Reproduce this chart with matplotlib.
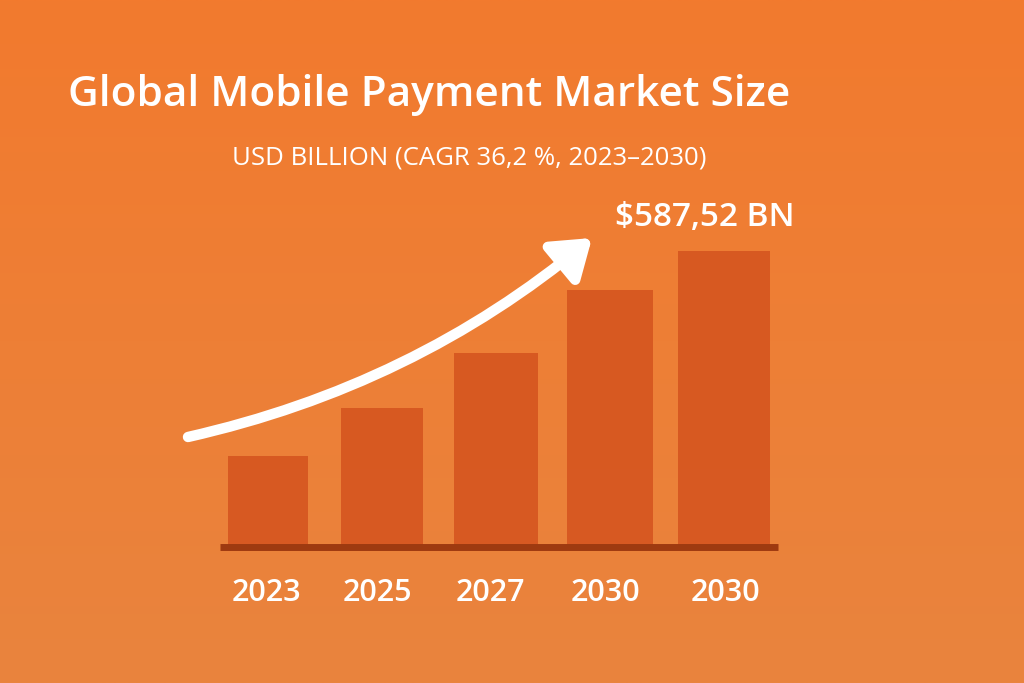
import matplotlib
matplotlib.use("Agg")
import matplotlib.pyplot as plt
import numpy as np
from matplotlib.patches import FancyArrowPatch

years = ["2023", "2025", "2027", "2030", "2030"]
values = [178, 275, 385, 511, 587.52]
title = "Global Mobile Payment Market Size"
subtitle = "USD BILLION (CAGR 36,2 %, 2023–2030)"
callout = "$587,52 BN"

W, H = 1024, 683
fig = plt.figure(figsize=(W/100, H/100), dpi=100)
plt.rcParams['font.family'] = ['Open Sans', 'DejaVu Sans']

bg = fig.add_axes([0, 0, 1, 1]); bg.axis('off')
t = np.linspace(0, 1, 256)[:, None]
c1 = np.array([0xF2, 0x7A, 0x2E]) / 255
c2 = np.array([0xE9, 0x84, 0x3E]) / 255
img = (c1 * (1 - t) + c2 * t)[:, None, :].repeat(2, axis=1)
bg.imshow(img, aspect='auto', extent=[0, 1, 0, 1], origin='upper')
bg.set_xlim(0, 1); bg.set_ylim(0, 1)

ax = fig.add_axes([211/W, (H-545)/H, 570/W, 300/H])
ax.patch.set_alpha(0)
x = np.arange(len(values))
widths = [0.70, 0.72, 0.74, 0.76, 0.80]
ax.bar(x, values, width=widths, color='#D4531E', alpha=0.85, zorder=2)
ax.set_xlim(-0.5, 4.5); ax.set_ylim(0, 600)
ax.axis('off')

ov = fig.add_axes([0, 0, 1, 1]); ov.axis('off'); ov.patch.set_alpha(0)
ov.set_xlim(0, W); ov.set_ylim(H, 0)
ov.plot([220, 778], [547, 547], color='#9E3A10', lw=5, solid_capstyle='butt')
centers = [266, 377, 490, 605, 725]
for cx, yr in zip(centers, years):
    ov.text(cx, 593, yr, color='white', fontsize=22, ha='center', va='center', fontweight='semibold')
ov.text(68, 95, title, color='white', fontsize=30.5, ha='left', va='center', fontweight='semibold')
ov.text(469, 158, subtitle, color='white', fontsize=18.5, ha='center', va='center')
ov.text(615, 218, callout, color='white', fontsize=24, ha='left', va='center', fontweight='semibold')
arr = FancyArrowPatch((188, 437), (592, 238), connectionstyle="arc3,rad=0.12",
                      arrowstyle="-|>,head_length=10,head_width=7", lw=7.5, color='white',
                      mutation_scale=2.2, shrinkA=0, shrinkB=0)
ov.add_patch(arr)

fig.savefig("out.png", dpi=100)
